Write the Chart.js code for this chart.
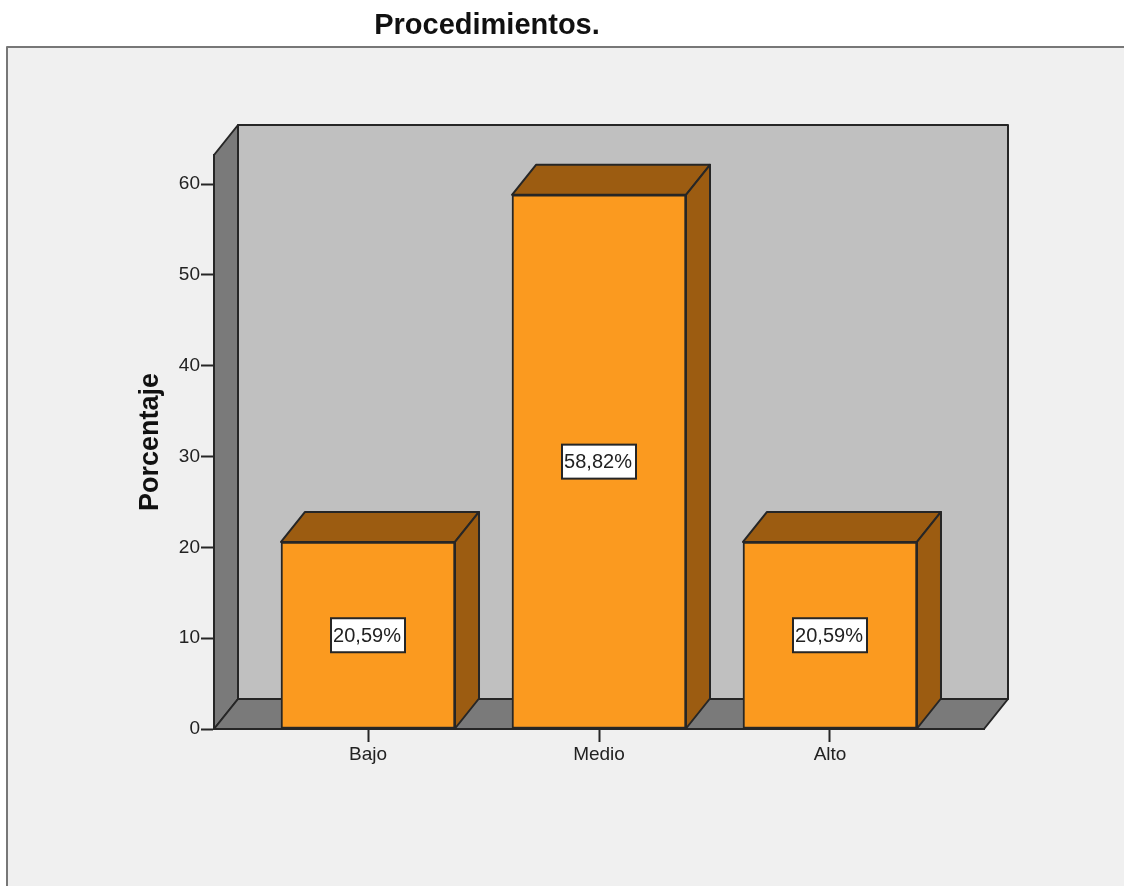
<!DOCTYPE html>
<html>
<head>
<meta charset="utf-8">
<title>Procedimientos.</title>
<script src="https://cdn.jsdelivr.net/npm/chart.js@4"></script>
<style>
    html, body { margin: 0; padding: 0; background: #ffffff; overflow: hidden; }
    canvas { display: block; }
</style>
</head>
<body>
<canvas id="chartProcedimientos" width="1124" height="886"></canvas>
<script>
const categories = ['Bajo', 'Medio', 'Alto'];
const porcentajes = [20.59, 58.82, 20.59];
const etiquetas = ['20,59%', '58,82%', '20,59%'];
const yTicks = [0, 10, 20, 30, 40, 50, 60];

const chartTitle = 'Procedimientos.';
const yTitle = 'Porcentaje';
const yMax = 63.2;

const fontName = '"Liberation Sans", Arial, sans-serif';
const lineColor = '#262626';
const depthX = 24;
const depthY = 30;

function poly(ctx, points, fill) {
    ctx.beginPath();
    points.forEach((p, i) => i ? ctx.lineTo(p[0], p[1]) : ctx.moveTo(p[0], p[1]));
    ctx.closePath();
    ctx.fillStyle = fill;
    ctx.fill();
    ctx.stroke();
}

// panel, caja 3D y titulo, antes de que se dibujen los ejes
const fondo3d = {
    id: 'fondo3d',
    beforeDraw(chart) {
        const { ctx, chartArea: a } = chart;
        ctx.save();
        ctx.fillStyle = '#f0f0f0';
        ctx.strokeStyle = '#777777';
        ctx.lineWidth = 2;
        ctx.lineJoin = 'round';
        ctx.fillRect(7, 47, 1117, 839);
        ctx.beginPath();
        ctx.moveTo(7, 886);
        ctx.lineTo(7, 47);
        ctx.lineTo(1124, 47);
        ctx.stroke();

        ctx.strokeStyle = lineColor;
        poly(ctx, [[a.left + depthX, a.top - depthY], [a.right + depthX, a.top - depthY],
            [a.right + depthX, a.bottom - depthY], [a.left + depthX, a.bottom - depthY]], '#c0c0c0');
        poly(ctx, [[a.left, a.top], [a.left + depthX, a.top - depthY],
            [a.left + depthX, a.bottom - depthY], [a.left, a.bottom]], '#7a7a7a');
        poly(ctx, [[a.left, a.bottom], [a.left + depthX, a.bottom - depthY],
            [a.right + depthX, a.bottom - depthY], [a.right, a.bottom]], '#7a7a7a');

        ctx.fillStyle = '#111111';
        ctx.font = 'bold 29px ' + fontName;
        ctx.textAlign = 'center';
        ctx.textBaseline = 'middle';
        ctx.fillText(chartTitle, 487, 26);
        ctx.restore();
    },
    // caras superior y lateral de cada barra
    beforeDatasetsDraw(chart) {
        const { ctx } = chart;
        ctx.save();
        ctx.strokeStyle = lineColor;
        ctx.lineWidth = 2;
        ctx.lineJoin = 'round';
        chart.getDatasetMeta(0).data.forEach(bar => {
            const l = bar.x - bar.width / 2;
            const r = bar.x + bar.width / 2;
            poly(ctx, [[l, bar.y], [l + depthX, bar.y - depthY], [r + depthX, bar.y - depthY], [r, bar.y]], '#9c5c11');
            poly(ctx, [[r, bar.y], [r + depthX, bar.y - depthY], [r + depthX, bar.base - depthY], [r, bar.base]], '#9c5c11');
        });
        ctx.restore();
    },
    // etiquetas blancas en el centro de cada barra
    afterDatasetsDraw(chart) {
        const { ctx } = chart;
        ctx.save();
        ctx.font = '20px ' + fontName;
        ctx.textAlign = 'center';
        ctx.textBaseline = 'middle';
        chart.getDatasetMeta(0).data.forEach((bar, i) => {
            const cy = (bar.y + bar.base) / 2;
            ctx.fillStyle = '#ffffff';
            ctx.strokeStyle = lineColor;
            ctx.lineWidth = 2;
            ctx.fillRect(bar.x - 37, cy - 17, 74, 34);
            ctx.strokeRect(bar.x - 37, cy - 17, 74, 34);
            ctx.fillStyle = '#222222';
            ctx.fillText(etiquetas[i], bar.x - 1, cy + 1);
        });
        ctx.restore();
    }
};

new Chart(document.getElementById('chartProcedimientos').getContext('2d'), {
    type: 'bar',
    data: {
        datasets: [{
            label: yTitle,
            data: porcentajes.map((v, i) => ({ x: i + 1, y: v })),
            backgroundColor: '#fb9a1f',
            borderColor: lineColor,
            borderWidth: 2,
            borderSkipped: false,
            barThickness: 174
        }]
    },
    options: {
        responsive: false,
        animation: false,
        layout: { padding: { left: 134, top: 155, right: 140, bottom: 0 } },
        plugins: { legend: { display: false }, tooltip: { enabled: false } },
        scales: {
            x: {
                type: 'linear',
                offset: false,
                min: 0.3333,
                max: 3.6667,
                afterBuildTicks: axis => { axis.ticks = categories.map((c, i) => ({ value: i + 1 })); },
                afterFit: axis => { axis.height = 157; },
                grid: { offset: false, drawOnChartArea: false, tickLength: 13, tickColor: lineColor, tickWidth: 2 },
                border: { color: lineColor, width: 2 },
                ticks: {
                    autoSkip: false,
                    maxRotation: 0,
                    padding: 1,
                    color: '#222222',
                    font: { family: fontName, size: 19 },
                    callback: v => categories[v - 1]
                }
            },
            y: {
                min: 0,
                max: yMax,
                afterBuildTicks: axis => { axis.ticks = yTicks.map(v => ({ value: v })); },
                afterFit: axis => { axis.width = 80; },
                grid: { drawOnChartArea: false, tickLength: 13, tickColor: lineColor, tickWidth: 2 },
                border: { color: lineColor, width: 2 },
                title: {
                    display: true,
                    text: yTitle,
                    color: '#111111',
                    font: { family: fontName, size: 27, weight: 'bold' },
                    padding: 0
                },
                ticks: {
                    padding: 1,
                    color: '#222222',
                    font: { family: fontName, size: 19 }
                }
            }
        }
    },
    plugins: [fondo3d]
});
</script>
</body>
</html>
